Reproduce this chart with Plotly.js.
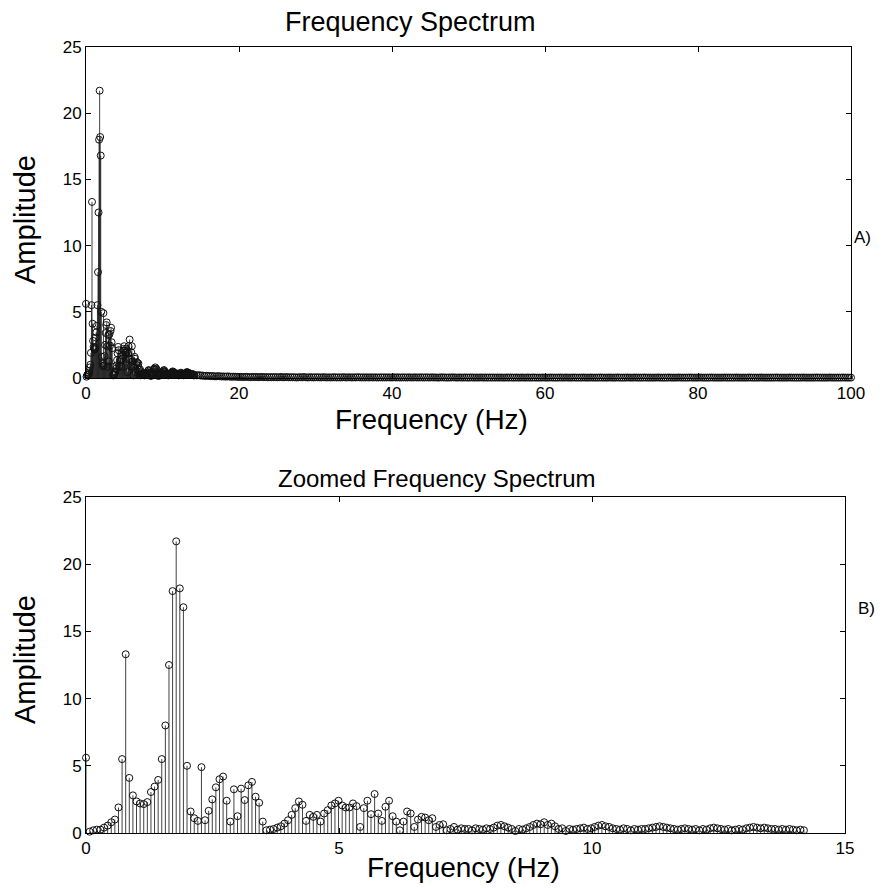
<!DOCTYPE html>
<html>
<head>
<meta charset="utf-8">
<script src="https://cdn.plot.ly/plotly-3.0.1.min.js"></script>
<style>html,body{margin:0;padding:0;background:#fff;}#chart{width:894px;height:889px;}</style>
</head>
<body>
<div id="chart"></div>
<script>
// Frequency bin spacing (Hz) of the spectrum
const binWidth = 0.0713;

// Amplitudes of the first 200 bins (0 – 14.2 Hz)
const lowAmp = [
  5.6, 0.1, 0.2, 0.25, 0.25, 0.4, 0.55, 0.8, 1.0, 1.9,
  5.5, 13.3, 4.1, 2.8, 2.35, 2.2, 2.15, 2.3, 3.05, 3.45,
  3.95, 5.5, 8.0, 12.5, 18.0, 21.7, 18.2, 16.8, 5.0, 1.6,
  1.1, 0.9, 4.9, 0.95, 1.65, 2.5, 3.4, 4.0, 4.2, 2.4,
  0.85, 3.25, 1.25, 3.3, 2.45, 3.55, 3.8, 2.7, 2.25, 0.85,
  0.2, 0.25, 0.3, 0.4, 0.5, 0.7, 0.95, 1.35, 1.85, 2.35,
  2.1, 0.9, 1.35, 1.2, 1.35, 0.85, 1.45, 1.7, 2.05, 2.2,
  2.4, 2.05, 1.9, 1.9, 2.2, 2.0, 0.45, 1.85, 2.4, 1.4,
  2.9, 1.45, 0.9, 1.95, 2.4, 1.25, 0.85, 0.2, 0.85, 1.6,
  1.45, 0.45, 1.0, 1.2, 1.15, 0.95, 1.1, 0.45, 0.6, 0.65,
  0.2, 0.3, 0.45, 0.25, 0.35, 0.3, 0.3, 0.2, 0.35, 0.3,
  0.25, 0.35, 0.3, 0.4, 0.55, 0.6, 0.5, 0.4, 0.3, 0.15,
  0.3, 0.25, 0.35, 0.45, 0.6, 0.7, 0.65, 0.8, 0.6, 0.7,
  0.5, 0.3, 0.35, 0.15, 0.3, 0.25, 0.3, 0.35, 0.4, 0.3,
  0.35, 0.45, 0.55, 0.6, 0.5, 0.45, 0.35, 0.3, 0.25, 0.35,
  0.3, 0.2, 0.3, 0.25, 0.3, 0.3, 0.35, 0.4, 0.45, 0.5,
  0.45, 0.4, 0.35, 0.3, 0.25, 0.3, 0.35, 0.3, 0.25, 0.3,
  0.2, 0.3, 0.25, 0.35, 0.4, 0.35, 0.3, 0.25, 0.3, 0.2,
  0.25, 0.3, 0.25, 0.35, 0.4, 0.45, 0.4, 0.35, 0.4, 0.35,
  0.3, 0.3, 0.25, 0.3, 0.25, 0.3, 0.25, 0.2, 0.25, 0.2
];

// Tail of the spectrum (14.5 – 100 Hz, every 0.25 Hz), only visible in panel A
const tailStart = 14.5;
const tailStep = 0.25;
const tailAmp = [
  0.2, 0.22, 0.18, 0.19, 0.15, 0.17, 0.16, 0.14, 0.15, 0.13, 0.12, 0.14, 0.13, 0.11, 0.12, 0.1, 0.12, 0.11, 0.09, 0.1,
  0.1, 0.09, 0.08, 0.09, 0.07, 0.08, 0.09, 0.07, 0.06, 0.08, 0.07, 0.08, 0.06, 0.07, 0.08, 0.06, 0.07, 0.05, 0.07, 0.06,
  0.06, 0.07, 0.05, 0.06, 0.08, 0.05, 0.06, 0.07, 0.05, 0.06, 0.05, 0.06, 0.04, 0.05, 0.06, 0.05, 0.07, 0.05, 0.04, 0.06,
  0.05, 0.04, 0.06, 0.05, 0.05, 0.04, 0.06, 0.05, 0.04, 0.05, 0.04, 0.05, 0.06, 0.04, 0.05, 0.04, 0.05, 0.06, 0.04, 0.05,
  0.05, 0.04, 0.05, 0.04, 0.06, 0.05, 0.04, 0.05, 0.04, 0.05, 0.04, 0.05, 0.04, 0.05, 0.04, 0.04, 0.05, 0.04, 0.05, 0.04,
  0.05, 0.04, 0.04, 0.05, 0.04, 0.05, 0.04, 0.04, 0.05, 0.04, 0.04, 0.05, 0.04, 0.04, 0.05, 0.04, 0.04, 0.05, 0.04, 0.04,
  0.05, 0.04, 0.04, 0.05, 0.04, 0.04, 0.03, 0.04, 0.05, 0.04, 0.04, 0.03, 0.04, 0.04, 0.05, 0.04, 0.03, 0.04, 0.04, 0.03,
  0.04, 0.04, 0.03, 0.04, 0.04, 0.03, 0.04, 0.03, 0.04, 0.04, 0.03, 0.04, 0.03, 0.04, 0.03, 0.04, 0.03, 0.04, 0.03, 0.04,
  0.03, 0.03, 0.04, 0.03, 0.04, 0.03, 0.03, 0.04, 0.03, 0.03, 0.04, 0.03, 0.03, 0.04, 0.03, 0.03, 0.04, 0.03, 0.03, 0.03,
  0.03, 0.04, 0.03, 0.03, 0.03, 0.04, 0.03, 0.03, 0.03, 0.03, 0.04, 0.03, 0.03, 0.04, 0.03, 0.03, 0.03, 0.04, 0.03, 0.03,
  0.03, 0.03, 0.04, 0.03, 0.03, 0.03, 0.04, 0.03, 0.03, 0.03, 0.03, 0.04, 0.03, 0.03, 0.03, 0.03, 0.04, 0.03, 0.03, 0.03,
  0.04, 0.03, 0.03, 0.03, 0.03, 0.04, 0.03, 0.03, 0.03, 0.04, 0.03, 0.03, 0.03, 0.03, 0.04, 0.03, 0.03, 0.03, 0.03, 0.03,
  0.03, 0.04, 0.03, 0.03, 0.03, 0.03, 0.03, 0.04, 0.03, 0.03, 0.03, 0.03, 0.04, 0.03, 0.03, 0.03, 0.03, 0.03, 0.04, 0.03,
  0.03, 0.03, 0.03, 0.04, 0.03, 0.03, 0.03, 0.03, 0.03, 0.04, 0.03, 0.03, 0.03, 0.03, 0.03, 0.03, 0.04, 0.03, 0.03, 0.03,
  0.03, 0.03, 0.04, 0.03, 0.03, 0.03, 0.03, 0.03, 0.03, 0.04, 0.03, 0.03, 0.03, 0.03, 0.03, 0.04, 0.03, 0.03, 0.03, 0.03,
  0.03, 0.03, 0.03, 0.04, 0.03, 0.03, 0.03, 0.03, 0.03, 0.03, 0.04, 0.03, 0.03, 0.03, 0.03, 0.03, 0.03, 0.04, 0.03, 0.03,
  0.03, 0.03, 0.03, 0.03, 0.04, 0.03, 0.03, 0.03, 0.03, 0.03, 0.03, 0.04, 0.03, 0.03, 0.03, 0.03, 0.03, 0.03, 0.04, 0.03,
  0.03, 0.03, 0.03
];

const xTicksA = [0, 20, 40, 60, 80, 100];
const xTicksB = [0, 5, 10, 15];
const yTicks = [0, 5, 10, 15, 20, 25];

const lowFreq = lowAmp.map((_, i) => i * binWidth);
const tailFreq = tailAmp.map((_, i) => tailStart + i * tailStep);
const allFreq = lowFreq.concat(tailFreq);
const allAmp = lowAmp.concat(tailAmp);

function stemTrace(x, y, xa, ya, size) {
  return {
    type: 'scatter', mode: 'markers', x: x, y: y, xaxis: xa, yaxis: ya,
    marker: {symbol: 'circle-open', size: size, color: '#111', line: {width: 1, color: '#111'}},
    error_y: {type: 'data', symmetric: false, array: y.map(() => 0), arrayminus: y,
              width: 0, thickness: 0.8, color: '#111'},
    cliponaxis: false, hoverinfo: 'x+y', showlegend: false
  };
}

const font = 'Liberation Sans, Arial, Helvetica, sans-serif';
const axisBase = {
  showline: true, linecolor: '#000', linewidth: 1, mirror: 'ticks',
  ticks: 'inside', ticklen: 5, tickcolor: '#000', tickwidth: 1,
  showgrid: false, zeroline: false, fixedrange: true,
  tickfont: {family: font, size: 17, color: '#000'}
};

const layout = {
  width: 894, height: 889,
  margin: {l: 0, r: 0, t: 0, b: 0},
  paper_bgcolor: '#fff', plot_bgcolor: '#fff',
  xaxis: Object.assign({}, axisBase, {domain: [86/894, 851/894], range: [0, 100], tickvals: xTicksA, anchor: 'y'}),
  yaxis: Object.assign({}, axisBase, {domain: [1 - 378/889, 1 - 47/889], range: [0, 25], tickvals: yTicks, anchor: 'x'}),
  xaxis2: Object.assign({}, axisBase, {domain: [86/894, 845/894], range: [0, 15], tickvals: xTicksB, anchor: 'y2'}),
  yaxis2: Object.assign({}, axisBase, {domain: [1 - 833/889, 1 - 497/889], range: [0, 25], tickvals: yTicks, anchor: 'x2'}),
  annotations: [
    {text: 'Frequency Spectrum', x: 410/894, y: 1 - 22/889, size: 27},
    {text: 'Frequency (Hz)', x: 431/894, y: 1 - 419/889, size: 28},
    {text: 'Amplitude', x: 25/894, y: 1 - 220/889, size: 29, angle: -90},
    {text: 'A)', x: 862/894, y: 1 - 237/889, size: 17},
    {text: 'Zoomed Frequency Spectrum', x: 436/894, y: 1 - 478/889, size: 24},
    {text: 'Frequency (Hz)', x: 463/894, y: 1 - 867/889, size: 28},
    {text: 'Amplitude', x: 25/894, y: 1 - 660/889, size: 29, angle: -90},
    {text: 'B)', x: 866/894, y: 1 - 608/889, size: 17}
  ].map(a => ({
    text: a.text, x: a.x, y: a.y, xref: 'paper', yref: 'paper',
    xanchor: 'center', yanchor: 'middle', showarrow: false,
    textangle: a.angle || 0, font: {family: font, size: a.size, color: '#000'}
  }))
};

Plotly.newPlot('chart', [
  stemTrace(allFreq, allAmp, 'x', 'y', 7),
  stemTrace(lowFreq, lowAmp, 'x2', 'y2', 7)
], layout, {staticPlot: true});
</script>
</body>
</html>
